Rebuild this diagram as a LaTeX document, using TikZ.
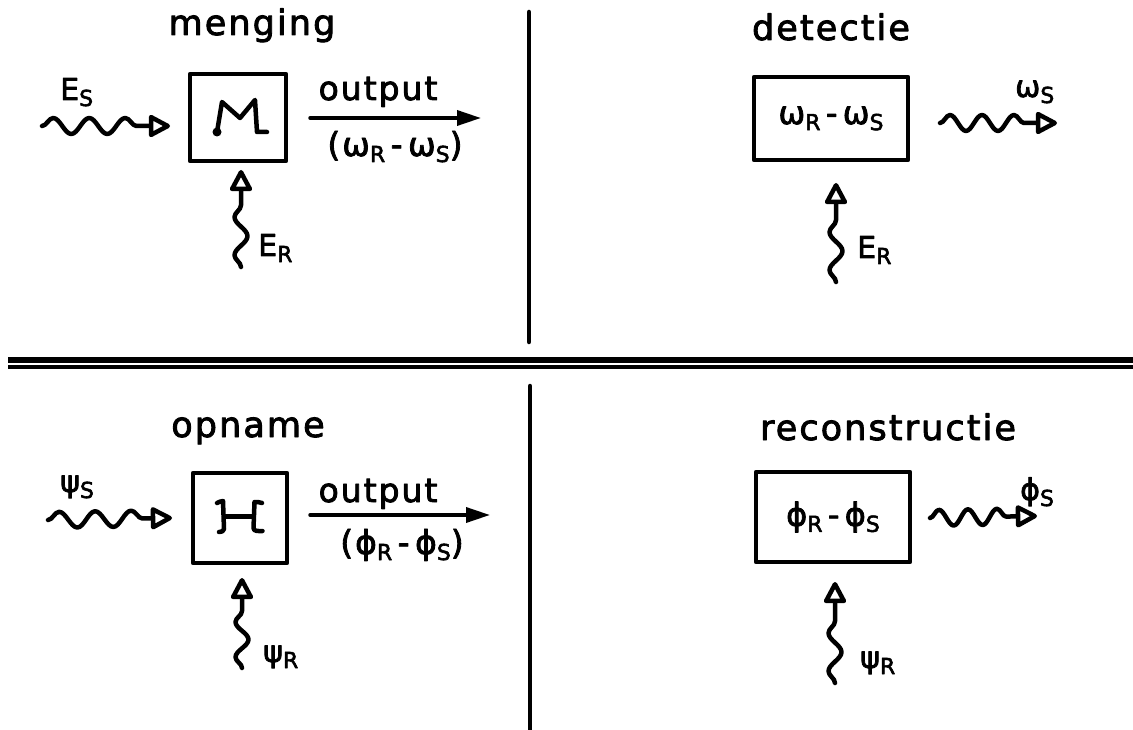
\documentclass[tikz,border=0pt]{standalone}
\usepackage{fontspec}
\setmainfont{DejaVu Sans}[LetterSpace=6,FakeBold=2.5]
\usetikzlibrary{arrows.meta,decorations.pathmorphing,calc}
\newcommand\lo[1]{\raisebox{-6pt}{\fontsize{22}{22}\selectfont #1}}
\newcommand\sph{ϕ}
\begin{document}
\begin{tikzpicture}[x=1pt,y=-1pt,line cap=round,line join=round,
  title/.style={font=\fontsize{35}{40}\selectfont,inner sep=0pt,anchor=base},
  lbl/.style={font=\fontsize{30}{34}\selectfont,inner sep=0pt,anchor=base west},
  olbl/.style={font=\fontsize{33}{38}\selectfont,inner sep=0pt,anchor=base},
  blk/.style={draw,line width=4.5pt,inner sep=0pt,font=\fontsize{32}{36}\selectfont},
  glyph/.style={line width=4.5pt},
  wave/.style={line width=4.5pt,decorate,
    decoration={snake,amplitude=8pt,segment length=36pt,post length=22pt},
    -{Triangle[open,length=24pt,width=24pt,round]}},
  vwave/.style={wave,decoration={snake,amplitude=6.5pt,segment length=38pt,post length=22pt}},
  outarr/.style={line width=3.5pt,-{Triangle[length=24pt,width=15pt]}},
  divider/.style={line width=4.5pt}]
\useasboundingbox (0,0) rectangle (1133,730);

% dividers
\coordinate (v1a) at (529,12); \coordinate (v1b) at (529,342);
\coordinate (v2a) at (530,386); \coordinate (v2b) at (530,730);
\coordinate (h1a) at (8,360); \coordinate (h1b) at (1133,360);
\coordinate (h2a) at (8,367); \coordinate (h2b) at (1133,367);
\draw[divider] (v1a) -- (v1b);
\draw[divider] (v2a) -- (v2b);
\draw[line width=5.5pt,line cap=butt] (h1a) -- (h1b);
\draw[line width=4.5pt,line cap=butt] (h2a) -- (h2b);

% ---------- top left: menging ----------
\node[title] (t1) at (252,35) {menging};
\node[blk,minimum width=96pt,minimum height=87pt] (M) at (238,117.5) {};
\begin{scope}[shift={(M.center)}]
  \draw[glyph] (-21,14.5) -- (-16,-15.5) -- (2,0.5) -- (17,-17.5) -- (19,14.5) -- (29,14.5);
  \fill (-21,14.5) circle (4.5pt);
\end{scope}
\node[lbl] (es) at (60,100) {E\lo{S}};
\coordinate (w1s) at (42,126); \coordinate (w1e) at (170,126);
\draw[wave] (w1s) -- (w1e);
\coordinate (o1s) at (310,118); \coordinate (o1e) at (481,118);
\draw[outarr] (o1s) -- (o1e);
\node[olbl] (out1) at (378,100) {output};
\node[olbl] (f1) at (395,156) {(ω\lo{R}\,-\,ω\lo{S})};
\coordinate (u1s) at (241,267); \coordinate (u1e) at (241,170);
\draw[vwave] (u1s) -- (u1e);
\node[lbl] (er1) at (258,256) {E\lo{R}};

% ---------- top right: detectie ----------
\node[title] (t2) at (831,40) {detectie};
\node[blk,minimum width=154pt,minimum height=83pt] (D) at (831,118.5) {ω\lo{R}\,-\,ω\lo{S}};
\coordinate (w2s) at (940,123); \coordinate (w2e) at (1057,123);
\draw[wave,decoration={segment length=32pt}] (w2s) -- (w2e);
\node[lbl] (ws) at (1015,97) {ω\lo{S}};
\coordinate (u2s) at (836,282); \coordinate (u2e) at (836,183);
\draw[vwave] (u2s) -- (u2e);
\node[lbl] (er2) at (857,258) {E\lo{R}};

% ---------- bottom left: opname ----------
\node[title] (t3) at (248,437) {opname};
\node[blk,minimum width=94pt,minimum height=90pt] (H) at (240,518) {};
\begin{scope}[shift={(H.center)}]
  \draw[glyph] (-23,-15) to[out=20,in=180] (-17,-17) -- (-16,11) to[out=-90,in=0] (-21,14);
  \draw[glyph] (22,-15) to[out=160,in=0] (14.5,-16) -- (13.5,10) to[out=-90,in=180] (22.5,13);
  \draw[glyph] (-16,-1.5) -- (13.8,-1.5);
\end{scope}
\node[lbl] (ps) at (60,492) {ψ\lo{S}};
\coordinate (w3s) at (48,520); \coordinate (w3e) at (172,518);
\draw[wave] (w3s) -- (w3e);
\coordinate (o2s) at (310,515); \coordinate (o2e) at (490,515);
\draw[outarr] (o2s) -- (o2e);
\node[olbl] (out2) at (378,502) {output};
\node[olbl] (f2) at (402,554) {(\sph\lo{R}\,-\,\sph\lo{S})};
\coordinate (u3s) at (242,668); \coordinate (u3e) at (242,578);
\draw[vwave,decoration={segment length=35pt}] (u3s) -- (u3e);
\node[lbl] (pr1) at (263,662) {ψ\lo{R}};

% ---------- bottom right: reconstructie ----------
\node[title] (t4) at (888,440) {reconstructie};
\node[blk,minimum width=154pt,minimum height=90pt] (R) at (833,517) {\sph\lo{R}\,-\,\sph\lo{S}};
\coordinate (w4s) at (930,518); \coordinate (w4e) at (1037,516);
\draw[wave,decoration={segment length=29pt}] (w4s) -- (w4e);
\node[lbl] (fs) at (1020,500) {\sph\lo{S}};
\coordinate (u4s) at (835,683); \coordinate (u4e) at (835,582);
\draw[vwave] (u4s) -- (u4e);
\node[lbl] (pr2) at (860,668) {ψ\lo{R}};
\end{tikzpicture}
\end{document}
